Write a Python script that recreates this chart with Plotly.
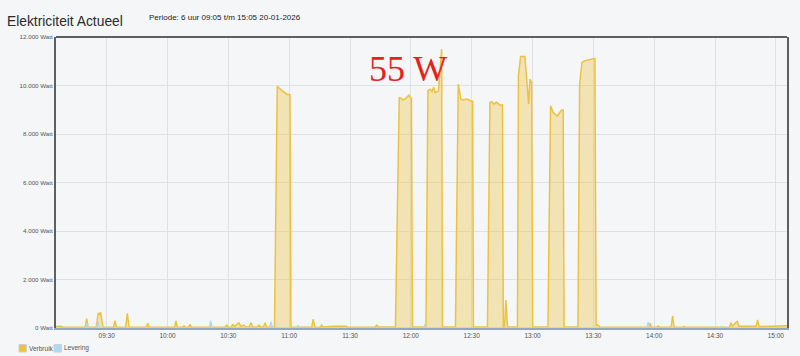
import plotly.graph_objects as go

DATE = "2026-01-20"

verbruik_times = [
    "09:05:00", "09:07:30", "09:08:30", "09:19:20", "09:20:08", "09:20:50",
    "09:24:50", "09:25:50", "09:26:25", "09:27:00", "09:28:10",
    "09:33:20", "09:34:05", "09:34:50", "09:39:20", "09:40:10", "09:41:00",
    "09:49:30", "09:50:13", "09:51:00", "10:03:30", "10:04:10", "10:04:50",
    "10:07:30", "10:08:07", "10:08:45", "10:10:25", "10:11:04", "10:11:45",
    "10:28:30", "10:29:12", "10:30:00", "10:31:30", "10:32:08", "10:33:00",
    "10:35:14", "10:36:10", "10:37:42", "10:38:40", "10:40:20", "10:41:09",
    "10:42:00", "10:44:20", "10:45:06", "10:46:00", "10:47:20", "10:48:04",
    "10:48:50",
    "10:52:45", "10:54:07", "10:56:17", "10:57:25", "10:58:54", "11:00:23", "11:00:52",
    "11:11:05", "11:11:52", "11:12:40", "11:15:20", "11:16:00", "11:16:45",
    "11:21:44", "11:28:00", "11:29:00", "11:42:20", "11:43:08", "11:44:00",
    "11:52:24", "11:54:17", "11:55:07", "11:56:07", "11:57:35", "11:59:04", "12:00:18", "12:00:47",
    "12:07:26", "12:08:26", "12:09:26", "12:10:26", "12:11:13", "12:12:01", "12:13:36",
    "12:14:20", "12:15:11", "12:15:35",
    "12:22:00", "12:23:23", "12:24:42", "12:25:42", "12:27:40", "12:29:38", "12:30:28", "12:30:52",
    "12:37:46", "12:39:00", "12:40:00", "12:41:00", "12:42:18", "12:43:56", "12:45:10", "12:45:35",
    "12:46:10", "12:46:53", "12:47:40",
    "12:52:34", "12:53:03", "12:54:08", "12:56:15", "12:58:05", "12:58:44", "12:59:34", "13:00:04",
    "13:07:36", "13:08:54", "13:10:12", "13:12:10", "13:14:20", "13:15:07", "13:15:34",
    "13:22:24", "13:23:14", "13:24:22", "13:25:51", "13:30:46", "13:31:22",
    "13:32:24", "13:33:10", "13:49:20", "13:50:00", "13:50:40",
    "13:57:10", "13:57:54", "13:58:40", "14:01:20", "14:02:00", "14:02:40",
    "14:08:20", "14:09:06", "14:09:50", "14:14:00", "14:14:40", "14:15:20",
    "14:37:10", "14:37:50", "14:38:40", "14:40:56", "14:41:50", "14:50:15",
    "14:51:00", "14:51:45", "14:59:32", "15:04:30", "15:05:30",
]
verbruik_watt = [
    60, 70, 30, 30, 390, 30,
    30, 620, 560, 640, 30,
    30, 300, 30, 30, 600, 30,
    30, 190, 30, 30, 290, 30,
    30, 90, 30, 30, 150, 30,
    30, 120, 30, 30, 160, 60,
    220, 60, 120, 40, 40, 220,
    40, 40, 120, 40, 40, 220,
    40,
    40, 9970, 9800, 9720, 9640, 9620, 40,
    30, 370, 30, 30, 120, 40,
    70, 70, 30, 30, 120, 40,
    40, 9500, 9480, 9400, 9480, 9600, 9450, 40,
    40, 9800, 9850, 9750, 9930, 9700, 9770,
    10500, 11500, 40,
    40, 10060, 9440, 9400, 9440, 9360, 9350, 40,
    40, 9310, 9330, 9230, 9310, 9190, 9200, 40,
    40, 1150, 40,
    40, 10400, 11200, 11200, 9230, 10260, 10120, 40,
    40, 9160, 8880, 8740, 8990, 8990, 40,
    40, 10050, 10950, 11020, 11120, 100,
    120, 30, 30, 60, 30,
    30, 190, 30, 30, 80, 30,
    30, 500, 30, 30, 60, 30,
    30, 220, 70, 290, 70, 70,
    330, 60, 70, 90, 90,
]

levering_times = [
    "09:05:00", "09:19:30", "09:20:08", "09:20:45", "09:25:05", "09:25:42", "09:26:20",
    "10:20:40", "10:21:17", "10:21:55", "10:50:20", "10:51:00", "10:51:40",
    "11:03:40", "11:04:20", "11:05:00", "12:06:20", "12:07:00", "12:07:40",
    "13:56:25", "13:57:05", "13:57:45", "14:32:05", "14:32:43", "14:33:20", "15:05:30",
]
levering_watt = [
    0, 0, 200, 0, 0, 250, 0,
    0, 290, 0, 0, 260, 0,
    0, 110, 0, 0, 150, 0,
    0, 240, 0, 0, 60, 0, 0,
]

y_ticks = [0, 2000, 4000, 6000, 8000, 10000, 12000]
y_tick_labels = ["0 Watt", "2.000 Watt", "4.000 Watt", "6.000 Watt",
                 "8.000 Watt", "10.000 Watt", "12.000 Watt"]

YELLOW = "#edc240"
BLUE = "#afd8f8"
BG = "#f5f6f8"
FONT = "Liberation Sans, Arial, sans-serif"

fig = go.Figure()
fig.add_trace(go.Scatter(
    x=[f"{DATE} {t}" for t in verbruik_times], y=verbruik_watt,
    name="Verbruik", mode="lines", fill="tozeroy",
    line=dict(color=YELLOW, width=1.5), fillcolor="rgba(237,194,64,0.37)",
    showlegend=False, hoverinfo="skip",
))
fig.add_trace(go.Scatter(
    x=[f"{DATE} {t}" for t in levering_times], y=levering_watt,
    name="Levering", mode="lines", fill="tozeroy",
    line=dict(color=BLUE, width=1.5), fillcolor="rgba(175,216,248,0.4)",
    showlegend=False, hoverinfo="skip",
))

fig.update_layout(
    width=800, height=356,
    margin=dict(l=56, r=13, t=37, b=28),
    paper_bgcolor=BG, plot_bgcolor=BG,
    font=dict(family=FONT, color="#545454", size=6.3),
    showlegend=False,
)
fig.update_xaxes(
    range=[f"{DATE} 09:05:00", f"{DATE} 15:05:30"],
    tick0=f"{DATE} 09:30:00", dtick=30 * 60 * 1000, tickformat="%H:%M",
    showgrid=True, gridcolor="#e0e1e3", gridwidth=1,
    showline=True, linecolor="#93a8bc", linewidth=2,
    ticks="", tickfont=dict(size=6.5, color="#545454"),
    zeroline=False, layer="below traces",
)
fig.update_yaxes(
    range=[0, 12000], tickvals=y_ticks, ticktext=y_tick_labels,
    showgrid=True, gridcolor="#e0e1e3", gridwidth=1,
    showline=True, mirror=True, linecolor="#5f5f5f", linewidth=2,
    ticks="", tickfont=dict(size=6.2, color="#545454"),
    zeroline=False,
)

# top border of the frame
fig.add_shape(type="line", xref="paper", yref="paper", x0=0, x1=1, y0=1, y1=1,
              line=dict(color="#5f5f5f", width=2))

# legend (flot style): small boxes with text
for label, color, x0 in [("Verbruik", YELLOW, -37), ("Levering", BLUE, -2)]:
    fig.add_shape(type="rect", xref="paper", yref="paper",
                  xsizemode="pixel", ysizemode="pixel", xanchor=0, yanchor=0,
                  x0=x0, x1=x0 + 7.5, y0=-24, y1=-16.5,
                  fillcolor=color, line=dict(color="#d0d0d0", width=1))
    fig.add_annotation(x=0, y=0, xref="paper", yref="paper", xanchor="left", yanchor="middle",
                       xshift=x0 + 8, yshift=-20, text=label, showarrow=False,
                       font=dict(family=FONT, size=6.5, color="#545454"))

# titles
fig.add_annotation(x=0, y=1, xref="paper", yref="paper", xanchor="left", yanchor="middle",
                   xshift=-51, yshift=16, text="Elektriciteit Actueel", showarrow=False,
                   font=dict(family=FONT, size=13.8, color="#2b2b2b"))
fig.add_annotation(x=0, y=1, xref="paper", yref="paper", xanchor="left", yanchor="middle",
                   xshift=91, yshift=19.5, text="Periode: 6 uur 09:05 t/m 15:05 20-01-2026",
                   showarrow=False, font=dict(family=FONT, size=8, color="#1a1a1a"))

# red overlay text
fig.add_annotation(x=0, y=1, xref="paper", yref="paper", xanchor="left", yanchor="middle",
                   xshift=311, yshift=-32, text="55 W", showarrow=False,
                   font=dict(family="Liberation Serif, Times New Roman, serif", size=36, color="#e3241b"))

fig.write_html("out.html")
